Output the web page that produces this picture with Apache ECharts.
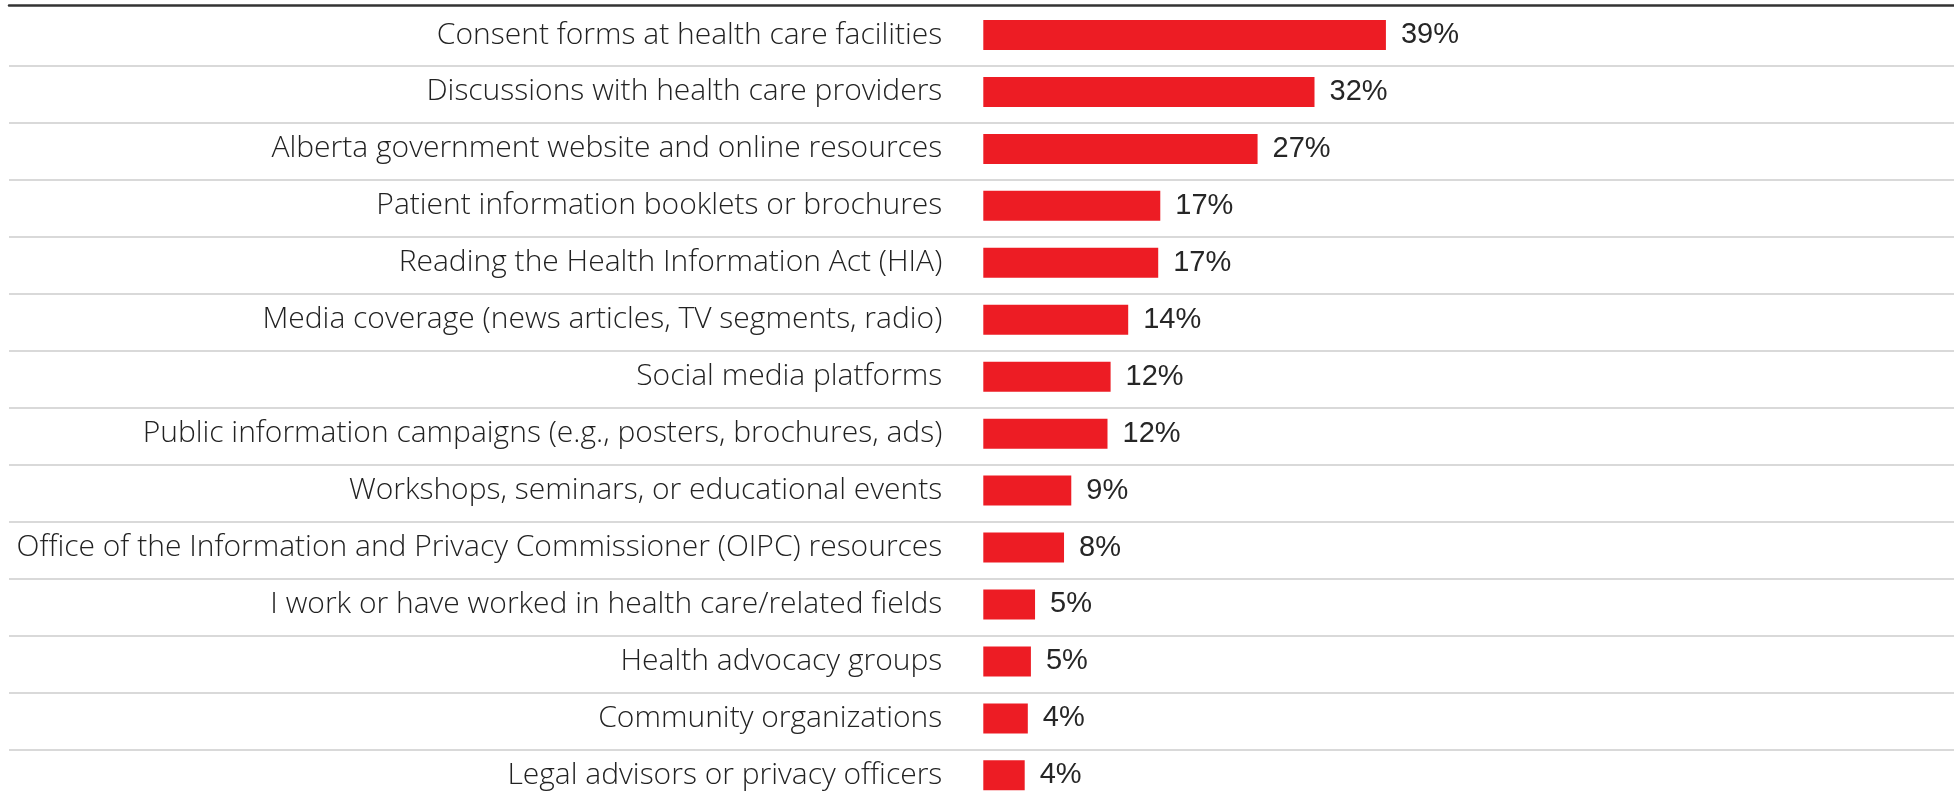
<!DOCTYPE html>
<html>
<head>
<meta charset="utf-8">
<script src="https://cdn.jsdelivr.net/npm/echarts@6/dist/echarts.min.js"></script>
<style>
  html, body { margin: 0; padding: 0; background: #fff; }
  #chart { width: 1954px; height: 802px; }
</style>
</head>
<body>
<div id="chart"></div>
<script>
// sources of information, top to bottom
const categories = [
  'Consent forms at health care facilities',
  'Discussions with health care providers',
  'Alberta government website and online resources',
  'Patient information booklets or brochures',
  'Reading the Health Information Act (HIA)',
  'Media coverage (news articles, TV segments, radio)',
  'Social media platforms',
  'Public information campaigns (e.g., posters, brochures, ads)',
  'Workshops, seminars, or educational events',
  'Office of the Information and Privacy Commissioner (OIPC) resources',
  'I work or have worked in health care/related fields',
  'Health advocacy groups',
  'Community organizations',
  'Legal advisors or privacy officers'
]

// share of respondents (%)
const shares = [38.9, 32.0, 26.5, 17.1, 16.9, 14.0, 12.3, 12.0, 8.5, 7.8, 5.0, 4.6, 4.3, 4.0]

const rowH = 56.95

const chart = echarts.init(document.getElementById('chart'), null, { renderer: 'canvas' })

chart.setOption({
  animation: false,
  grid: [
    // full-width grid, only used for the row separators and top rule
    { left: 9, right: 0, top: 9, height: rowH * categories.length, outerBoundsMode: 'none' },
    // bars
    { left: 983.3, width: 1035, top: 6.5, height: rowH * categories.length, outerBoundsMode: 'none' }
  ],
  xAxis: [
    {
      gridIndex: 0, type: 'value', position: 'top', offset: 4,
      min: 0, max: 1,
      axisLine: { show: true, lineStyle: { color: '#333', width: 2.5 } },
      axisTick: { show: false }, axisLabel: { show: false }, splitLine: { show: false }
    },
    {
      gridIndex: 1, type: 'value', min: 0, max: 100,
      axisLine: { show: false }, axisTick: { show: false },
      axisLabel: { show: false }, splitLine: { show: false }
    }
  ],
  yAxis: [
    {
      gridIndex: 0, type: 'category', inverse: true, data: categories,
      axisLine: { show: false }, axisTick: { show: false }, axisLabel: { show: false },
      splitLine: {
        show: true,
        interval: (idx) => idx > 0,
        lineStyle: { color: '#d9d9d9', width: 2 }
      }
    },
    {
      gridIndex: 1, type: 'category', inverse: true, data: categories,
      axisLine: { show: false }, axisTick: { show: false }, splitLine: { show: false },
      axisLabel: {
        margin: 41,
        color: '#222',
        fontFamily: 'Open Sans',
        fontWeight: 300,
        fontSize: 30
      }
    }
  ],
  series: [
    {
      type: 'bar',
      xAxisIndex: 1,
      yAxisIndex: 1,
      data: shares,
      barWidth: 30,
      itemStyle: { color: '#ed1c24' },
      label: {
        show: true,
        position: 'right',
        distance: 15,
        formatter: (p) => Math.round(p.value) + '%',
        color: '#262626',
        fontFamily: 'Liberation Sans',
        fontSize: 29
      }
    }
  ]
})
</script>
</body>
</html>
